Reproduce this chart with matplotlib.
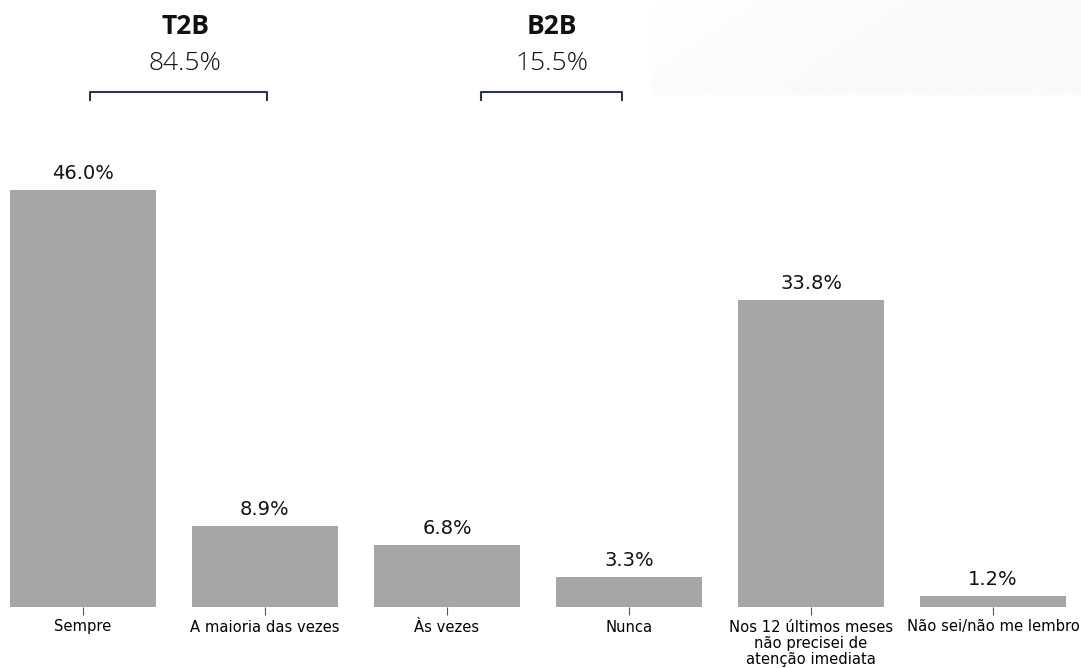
import numpy as np
import matplotlib.pyplot as plt

categories = ['Sempre', 'A maioria das vezes', 'Às vezes', 'Nunca',
              'Nos 12 últimos meses\nnão precisei de\natenção imediata',
              'Não sei/não me lembro']
values = [46.0, 8.9, 6.8, 3.3, 33.8, 1.2]
groups = ['T2B', 'B2B']
group_totals = ['84.5%', '15.5%']

fig = plt.figure(figsize=(10.81, 6.68), dpi=100)

# faint gradient panel top right
bg = fig.add_axes([650 / 1081, 1 - 95 / 668, 431 / 1081, 95 / 668], zorder=0)
gx, gy = np.meshgrid(np.linspace(0, 1, 200), np.linspace(0, 1, 50))
grad = 1.0 - 0.02 * np.clip(gx * 1.6 + gy * 0.5, 0, 1) ** 0.6
bg.imshow(grad, cmap='gray', vmin=0, vmax=1, aspect='auto', extent=[0, 1, 0, 1])
bg.axis('off')

ax = fig.add_axes([10 / 1081, 1 - 607 / 668, 1056 / 1081, 453.5 / 668], zorder=1)
ax.patch.set_alpha(0)
x = np.arange(len(categories))
bars = ax.bar(x, values, width=0.8, color='#a6a6a6')
for b, v in zip(bars, values):
    ax.text(b.get_x() + b.get_width() / 2, v + 0.8, f'{v:.1f}%',
            ha='center', va='bottom', fontsize=14, color='#111111')
ax.set_xlim(-0.4, len(categories) - 0.6)
ax.set_ylim(0, 50)
ax.set_xticks(x)
ax.set_xticklabels(categories, fontsize=10.6, linespacing=1.1)
ax.tick_params(axis='x', length=6, color='#555555', pad=3)
ax.set_yticks([])
for s in ax.spines.values():
    s.set_visible(False)

# headers with brackets (figure pixel coords)
header_x = [185, 552]
bracket_spans = [(90, 267), (481, 622)]
for name, tot, cx, (x0, x1) in zip(groups, group_totals, header_x, bracket_spans):
    fig.text(cx / 1081, 1 - 27 / 668, name, ha='center', va='center',
             fontsize=19, fontweight='bold', family='Open Sans', color='#111111')
    fig.text(cx / 1081, 1 - 64 / 668, tot, ha='center', va='center',
             fontsize=19, fontweight='light', family='Open Sans', color='#111111')
    fig.add_artist(plt.Line2D([x0 / 1081, x0 / 1081, x1 / 1081, x1 / 1081],
                              [1 - 100 / 668, 1 - 92 / 668, 1 - 92 / 668, 1 - 100 / 668],
                              color='#2d3648', lw=1.5, transform=fig.transFigure))

fig.savefig('out.png', dpi=100)
